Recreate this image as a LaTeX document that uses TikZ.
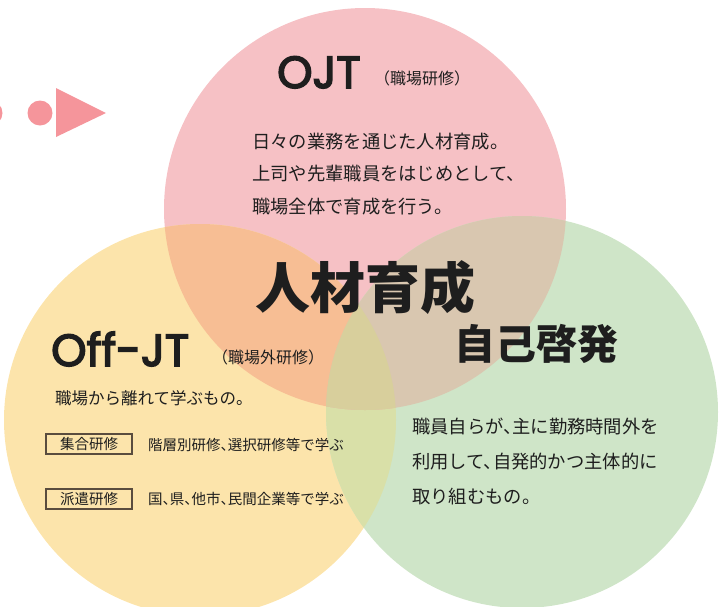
\documentclass[tikz,border=0pt]{standalone}
\usepackage{fontspec}
\newfontfamily\cjk{Noto Sans CJK JP}
\newfontfamily\cjkh[RawFeature=+halt]{Noto Sans CJK JP}
\newfontfamily\geo[FakeBold=3.5]{Poppins}
\definecolor{pinkc}{HTML}{F6C1C5}
\definecolor{yelc}{HTML}{FCE4AB}
\definecolor{grnc}{HTML}{CFE5C8}
\definecolor{orac}{HTML}{F7BE94}
\definecolor{tanc}{HTML}{D9C7B0}
\definecolor{olic}{HTML}{D9E0A8}
\definecolor{midc}{HTML}{D8CF9C}
\definecolor{decoc}{HTML}{F5959B}
\definecolor{txtc}{HTML}{1E1E1E}
\definecolor{boxc}{HTML}{5A4C3E}
\begin{document}
\begin{tikzpicture}[x=1pt,y=-1pt,
  txt/.style={inner sep=0pt,text=txtc,anchor=west},
  body/.style={txt,font=\cjkh\fontsize{18.3}{20}\selectfont},
  small/.style={txt,font=\cjkh\fontsize{14.5}{16}\selectfont},
  paren/.style={txt,font=\cjk\fontsize{16}{18}\selectfont},
  big/.style={txt,font=\geo\fontsize{45}{48}\selectfont},
  tagbox/.style={draw=boxc,line width=1.4pt,minimum width=86pt,minimum height=20pt,inner sep=0pt,text=txtc,font=\cjk\fontsize{14.5}{16}\selectfont}]
\useasboundingbox (0,0) rectangle (726,606);
\coordinate (cP) at (365,209);
\coordinate (cY) at (200,420);
\coordinate (cG) at (522,412);
% circles
\fill[pinkc] (cP) circle[radius=201pt];
\fill[yelc] (cY) circle[radius=196pt];
\fill[grnc] (cG) circle[radius=196pt];
\begin{scope}
  \clip (cY) circle[radius=196pt];
  \fill[olic] (cG) circle[radius=196pt];
\end{scope}
\begin{scope}
  \clip (cP) circle[radius=201pt];
  \fill[orac] (cY) circle[radius=196pt];
  \fill[tanc] (cG) circle[radius=196pt];
  \clip (cY) circle[radius=196pt];
  \fill[midc] (cG) circle[radius=196pt];
\end{scope}
% decoration
\fill[decoc] (-10,113) circle[radius=12.5pt];
\fill[decoc] (40,113) circle[radius=12.5pt];
\fill[decoc] (56,88) -- (106,113) -- (56,137) -- cycle;
% OJT
\node[big,anchor=base west] (ojt) at (277,88) {OJT};
\node[paren] (ojtp) at (374,78) {（職場研修）};
\node[body] (o1) at (252,142) {日々の業務を通じた人材育成。};
\node[body] (o2) at (252,174) {上司や先輩職員をはじめとして、};
\node[body] (o3) at (252,207) {職場全体で育成を行う。};
% center
\node[txt,anchor=center,font=\cjk\bfseries\fontsize{55}{60}\selectfont] (hr) at (365,288) {人材育成};
% Off-JT
\node[big,anchor=base west] (off) at (51,366) {Off-JT};
\node[paren] (offp) at (212,357) {（職場外研修）};
\node[txt,font=\cjkh\fontsize{16.5}{18}\selectfont] (f1) at (55,398) {職場から離れて学ぶもの。};
\node[tagbox] (b1) at (89,444) {集合研修};
\node[small] (b1t) at (148,445) {階層別研修、選択研修等で学ぶ};
\node[tagbox] (b2) at (89,499) {派遣研修};
\node[small] (b2t) at (148,499) {国、県、他市、民間企業等で学ぶ};
% self development
\node[txt,anchor=center,font=\cjk\bfseries\fontsize{41}{44}\selectfont] (sd) at (536,344) {自己啓発};
\node[body] (g1) at (412,427) {職員自らが、主に勤務時間外を};
\node[body] (g2) at (412,462) {利用して、自発的かつ主体的に};
\node[body] (g3) at (412,497) {取り組むもの。};
\end{tikzpicture}
\end{document}
